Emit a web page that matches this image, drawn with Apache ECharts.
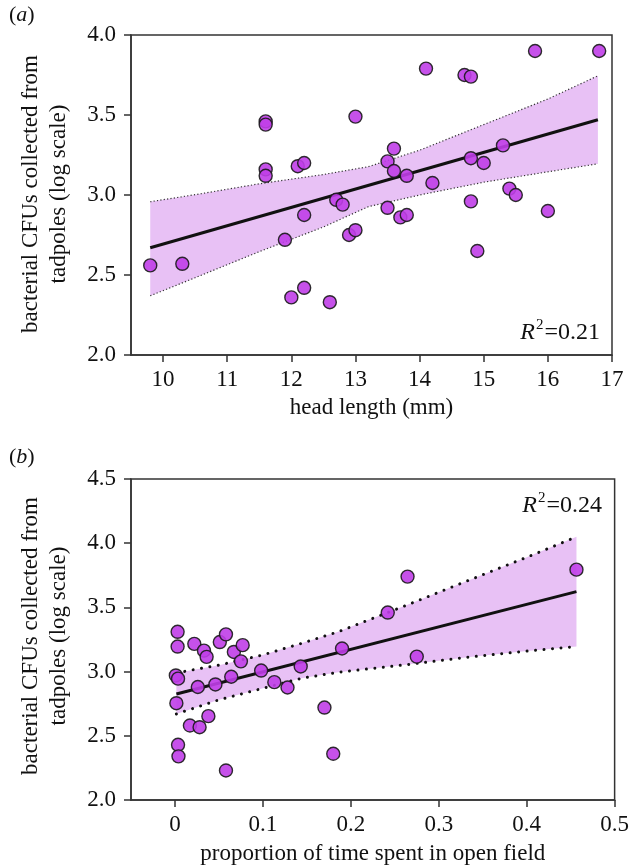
<!DOCTYPE html>
<html>
<head>
<meta charset="utf-8">
<script src="https://cdn.jsdelivr.net/npm/echarts@6/dist/echarts.min.js"></script>
<style>
html,body{margin:0;padding:0;background:#fff;}
#c{width:632px;height:867px;}
</style>
</head>
<body>
<div id="c"></div>
<script>
// ---------- Panel (a): head length ----------
var headLength = [9.8, 10.3, 11.6, 11.6, 11.6, 11.6, 12.1, 12.2, 12.2, 11.9, 12.0, 12.2, 12.6, 12.7, 12.8, 12.9, 13.0, 13.0,
                  15.8, 16.8, 14.1, 14.7, 14.8, 13.6, 13.5, 13.6, 13.8, 14.2, 14.8, 15.0, 15.3, 15.4, 15.5, 16.0, 14.8, 14.9, 13.5, 13.7, 13.8];
var cfuA = [2.56, 2.57, 3.46, 3.44, 3.16, 3.12, 3.18, 3.20, 2.875, 2.72, 2.36, 2.42, 2.33, 2.97, 2.94, 2.75, 2.78, 3.49,
            3.90, 3.90, 3.79, 3.75, 3.74, 3.29, 3.21, 3.15, 3.12, 3.075, 3.23, 3.20, 3.31, 3.04, 3.00, 2.90, 2.96, 2.65, 2.92, 2.86, 2.875];
var fitAx = [9.8, 16.78];
var fitAy = [2.67, 3.47];
var bandAx  = [9.8, 10.5, 11.5, 12.5, 13.2, 14.0, 15.0, 16.0, 16.78];
var bandAUp = [2.958, 3.002, 3.07, 3.128, 3.177, 3.28, 3.44, 3.60, 3.745];
var bandALo = [2.37, 2.483, 2.646, 2.80, 2.927, 3.00, 3.08, 3.145, 3.195];
var xTicksA = [10, 11, 12, 13, 14, 15, 16, 17];
var r2A = '0.21';

// ---------- Panel (b): open field ----------
var openField = [0.003, 0.003, 0.001, 0.0035, 0.0016, 0.0035, 0.004, 0.022, 0.033, 0.036, 0.051, 0.058, 0.067, 0.077, 0.075, 0.064,
                 0.026, 0.046, 0.098, 0.113, 0.128, 0.143, 0.19, 0.017, 0.028, 0.038, 0.17, 0.18, 0.058, 0.242, 0.2645, 0.275, 0.4566];
var cfuB = [3.31, 3.195, 2.97, 2.945, 2.754, 2.43, 2.34, 3.216, 3.163, 3.115, 3.23, 3.29, 3.153, 3.206, 3.08, 2.96,
            2.88, 2.90, 3.008, 2.918, 2.876, 3.04, 3.18, 2.58, 2.567, 2.653, 2.72, 2.36, 2.23, 3.46, 3.74, 3.117, 3.794];
var fitBx = [0.0016, 0.4566];
var fitBy = [2.826, 3.623];
var bandBx  = [0.0016, 0.05, 0.1, 0.144, 0.1856, 0.2645, 0.33, 0.4, 0.4566];
var bandBUp = [2.99, 3.05, 3.13, 3.22, 3.31, 3.52, 3.70, 3.89, 4.05];
var bandBLo = [2.67, 2.78, 2.87, 2.948, 2.995, 3.055, 3.11, 3.16, 3.195];
var xTicksB = [0, 0.1, 0.2, 0.3, 0.4, 0.5];
var r2B = '0.24';

var yTitle = 'bacterial CFUs collected from\ntadpoles (log scale)';
var xTitleA = 'head length (mm)';
var xTitleB = 'proportion of time spent in open field';

// ---------- helpers ----------
function zip(xs, ys) { return xs.map(function (x, i) { return [x, ys[i]]; }); }
var FONT = 'Liberation Serif';
var MARK = '#c03ee8';
var BAND = '#e8c1f5';
var AX = '#333';

function bandSeries(idx, xs, up, lo) {
  var poly = zip(xs, up).concat(zip(xs, lo).reverse());
  return {
    type: 'custom', xAxisIndex: idx, yAxisIndex: idx, z: 1, silent: true,
    data: [0],
    renderItem: function (params, api) {
      return {
        type: 'polygon',
        shape: { points: poly.map(function (p) { return api.coord(p); }) },
        style: { fill: BAND }
      };
    }
  };
}
function edgeSeries(idx, xs, ys, ls) {
  return { type: 'line', xAxisIndex: idx, yAxisIndex: idx, z: 2, silent: true, showSymbol: false,
           data: zip(xs, ys), lineStyle: ls };
}
function axisCommon() {
  return {
    axisLine: { show: true, onZero: false, lineStyle: { color: AX, width: 1.5 } },
    axisTick: { show: true, inside: false, length: 7, lineStyle: { color: AX, width: 1.5 } },
    splitLine: { show: false }
  };
}
function xAxisDef(idx, min, max, ticks, name, gap) {
  var a = axisCommon();
  a.type = 'value'; a.gridIndex = idx; a.min = min; a.max = max;
  a.axisTick.customValues = ticks;
  a.axisLabel = { customValues: ticks, fontFamily: FONT, fontSize: 23, color: '#111', margin: 13 };
  a.name = name; a.nameLocation = 'middle'; a.nameGap = gap;
  a.nameTextStyle = { fontFamily: FONT, fontSize: 23, color: '#111' };
  return a;
}
function yAxisDef(idx, min, max) {
  var a = axisCommon();
  a.type = 'value'; a.gridIndex = idx; a.min = min; a.max = max; a.interval = 0.5;
  a.axisLabel = { fontFamily: FONT, fontSize: 23, color: '#111', margin: 15,
                  formatter: function (v) { return v.toFixed(1); } };
  return a;
}
function r2Text(right, cy, val) {
  return {
    type: 'text', right: right, top: cy - 15, z: 100,
    style: {
      text: '{i|R}{s|2}{n|=' + val + '}',
      rich: {
        i: { fontFamily: FONT, fontSize: 24, fontStyle: 'italic', fill: '#111' },
        s: { fontFamily: FONT, fontSize: 15, fill: '#111', padding: [0, 1, 14, 1] },
        n: { fontFamily: FONT, fontSize: 24, fill: '#111' }
      }
    }
  };
}
function panelLabel(top, letter) {
  return {
    type: 'text', left: 9, top: top, z: 100,
    style: {
      text: '{p|(}{l|' + letter + '}{p|)}',
      rich: {
        p: { fontFamily: FONT, fontSize: 22, fill: '#111' },
        l: { fontFamily: FONT, fontSize: 22, fontStyle: 'italic', fill: '#111' }
      }
    }
  };
}
function yTitleText(cx, cy) {
  return {
    type: 'text', x: cx, y: cy, rotation: Math.PI / 2, z: 100,
    style: { text: yTitle, fontFamily: FONT, fontSize: 23, lineHeight: 28, fill: '#111',
             align: 'center', verticalAlign: 'middle' }
  };
}

var chart = echarts.init(document.getElementById('c'), null, { renderer: 'canvas' });
chart.setOption({
  animation: false,
  backgroundColor: '#fff',
  grid: [
    { left: 131, top: 35, width: 481, height: 320, show: true, borderColor: AX, borderWidth: 1.5, backgroundColor: 'transparent' },
    { left: 131, top: 479, width: 487, height: 321, show: true, borderColor: AX, borderWidth: 1.5, backgroundColor: 'transparent' }
  ],
  xAxis: [
    xAxisDef(0, 9.5, 17, xTicksA, xTitleA, 41),
    xAxisDef(1, -0.05, 0.5, xTicksB, xTitleB, 42)
  ],
  yAxis: [ yAxisDef(0, 2, 4), yAxisDef(1, 2, 4.5) ],
  graphic: [
    panelLabel(4, 'a'), panelLabel(446, 'b'),
    yTitleText(45, 194), yTitleText(45, 636),
    r2Text(32, 333, r2A), r2Text(30, 506, r2B)
  ],
  series: [
    bandSeries(0, bandAx, bandAUp, bandALo),
    edgeSeries(0, bandAx, bandAUp, { color: '#333', width: 1.2, type: [1.2, 2.2] }),
    edgeSeries(0, bandAx, bandALo, { color: '#333', width: 1.2, type: [1.2, 2.2] }),
    { type: 'line', xAxisIndex: 0, yAxisIndex: 0, z: 3, showSymbol: false, silent: true,
      data: zip(fitAx, fitAy), lineStyle: { color: '#111', width: 3 } },
    { type: 'scatter', xAxisIndex: 0, yAxisIndex: 0, z: 5, symbolSize: 13,
      data: zip(headLength, cfuA),
      itemStyle: { color: MARK, borderColor: '#1a1a1a', borderWidth: 1.4, opacity: 0.9 } },

    bandSeries(1, bandBx, bandBUp, bandBLo),
    edgeSeries(1, bandBx, bandBUp, { color: '#111', width: 3, type: [0.01, 8.5], cap: 'round' }),
    edgeSeries(1, bandBx, bandBLo, { color: '#111', width: 3, type: [0.01, 8.5], cap: 'round' }),
    { type: 'line', xAxisIndex: 1, yAxisIndex: 1, z: 3, showSymbol: false, silent: true,
      data: zip(fitBx, fitBy), lineStyle: { color: '#111', width: 3 } },
    { type: 'scatter', xAxisIndex: 1, yAxisIndex: 1, z: 5, symbolSize: 13,
      data: zip(openField, cfuB),
      itemStyle: { color: MARK, borderColor: '#1a1a1a', borderWidth: 1.4, opacity: 0.9 } }
  ]
});
</script>
</body>
</html>
